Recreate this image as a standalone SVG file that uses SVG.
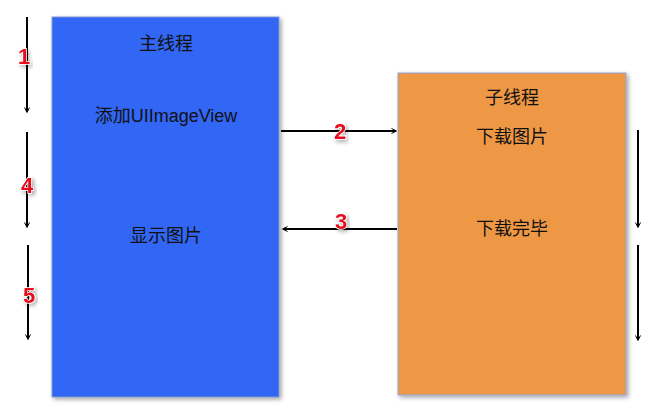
<svg xmlns="http://www.w3.org/2000/svg" width="662" height="418" viewBox="0 0 662 418">
<defs>
<marker id="ah" viewBox="0 0 10 10" refX="9" refY="5" markerWidth="5" markerHeight="5" orient="auto" markerUnits="userSpaceOnUse" style="overflow:visible"><path d="M0,0 L10,5 L0,10" fill="none" stroke="#000" stroke-width="2"/></marker>
<filter id="sh" x="-10%" y="-10%" width="130%" height="130%"><feDropShadow dx="2" dy="2" stdDeviation="2" flood-color="#000" flood-opacity="0.35"/></filter>
</defs>
<style>
.t{font-family:"Liberation Sans","Noto Sans CJK SC",sans-serif;font-size:18px;fill:#111;text-anchor:middle}
.n{font-family:"Liberation Sans",sans-serif;font-size:22px;font-weight:bold;fill:#e8101c;stroke:#fff;stroke-width:1.5;paint-order:stroke;text-anchor:middle}
.c{stroke:#000;stroke-width:2;fill:none}
</style>
<rect width="662" height="418" fill="#fff"/>
<g id="main"><rect x="52" y="17" width="227" height="380" fill="#3366f5" stroke="#7f9ad0" filter="url(#sh)"/>
<text class="t" x="166" y="50">主线程</text><text class="t" x="166" y="122">添加UIImageView</text><text class="t" x="166" y="242">显示图片</text></g>
<g id="sub"><rect x="398" y="73" width="228" height="322" fill="#ee9745" stroke="#8fa6d8" filter="url(#sh)"/>
<text class="t" x="512" y="104">子线程</text><text class="t" x="512" y="143">下载图片</text><text class="t" x="512" y="235">下载完毕</text></g>
<g id="connectors">
<line class="c" x1="27" y1="17" x2="27" y2="112" marker-end="url(#ah)"/>
<line class="c" x1="27" y1="132" x2="27" y2="227" marker-end="url(#ah)"/>
<line class="c" x1="28" y1="245" x2="28" y2="339" marker-end="url(#ah)"/>
<line class="c" x1="638" y1="130" x2="638" y2="227" marker-end="url(#ah)"/>
<line class="c" x1="638" y1="245" x2="638" y2="340" marker-end="url(#ah)"/>
<line class="c" x1="281" y1="131" x2="396" y2="131" marker-end="url(#ah)"/>
<line class="c" x1="397" y1="229" x2="283" y2="229" marker-end="url(#ah)"/>
<text class="n" x="24" y="64" filter="url(#sh)">1</text>
<text class="n" x="27" y="193" filter="url(#sh)">4</text>
<text class="n" x="29" y="303" filter="url(#sh)">5</text>
<text class="n" x="340" y="139" filter="url(#sh)">2</text>
<text class="n" x="341" y="229" filter="url(#sh)">3</text>
</g>
</svg>
